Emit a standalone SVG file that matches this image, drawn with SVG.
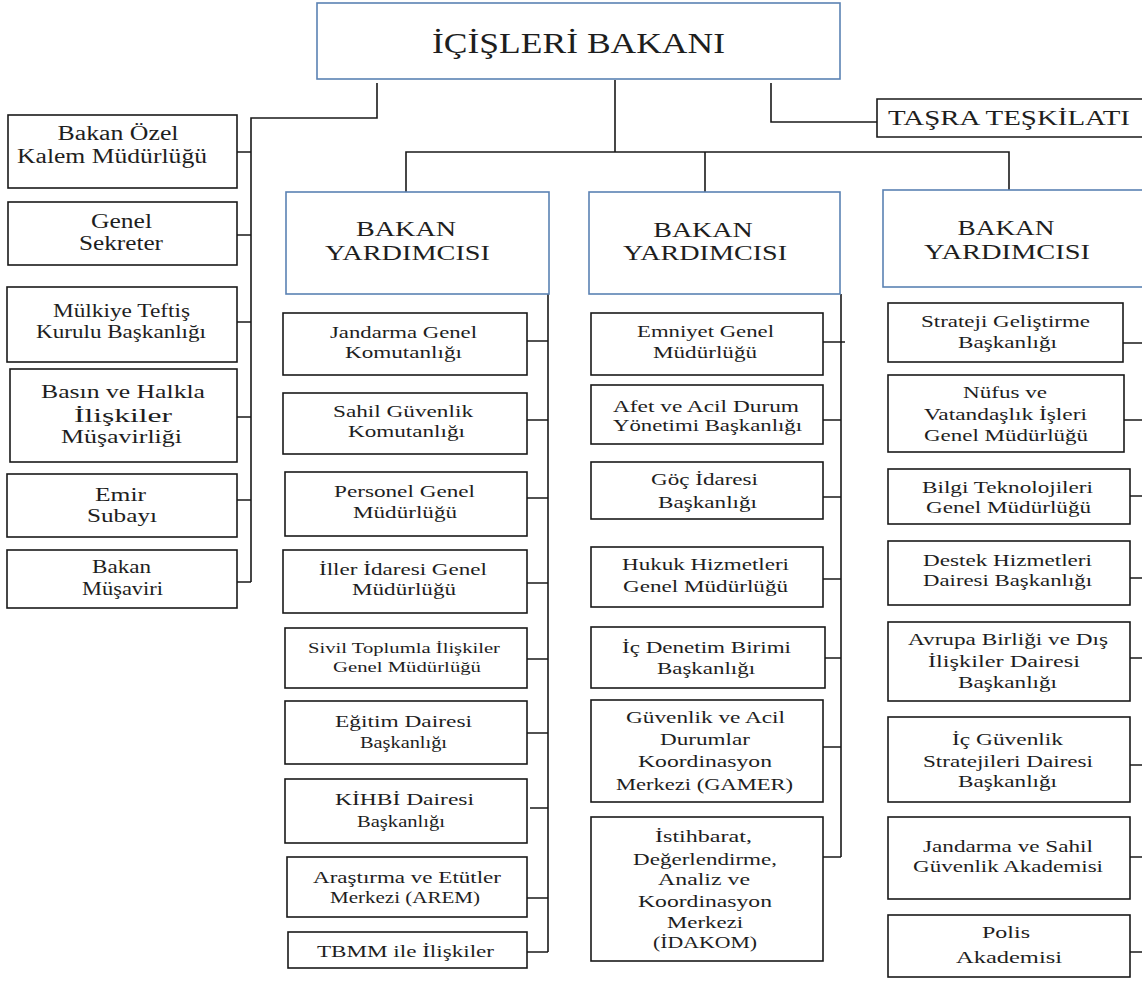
<svg xmlns="http://www.w3.org/2000/svg" width="1142" height="983" viewBox="0 0 1142 983" font-family="'Liberation Serif', 'DejaVu Serif', 'Times New Roman', serif">
<style>
.b{fill:#fff;stroke:#1a1a1a;stroke-width:1.6}
.bl{fill:#fff;stroke:#5b82b3;stroke-width:1.6}
.c{fill:none;stroke:#1a1a1a;stroke-width:1.6}
text{font-family:'Liberation Serif','DejaVu Serif','Times New Roman',serif;fill:#1e1e1e;text-anchor:middle}
.f30{font-size:30px}.f22{font-size:21px}.f21{font-size:21px}.f20{font-size:20px}.f19{font-size:19px}.f18{font-size:18px}.f17{font-size:17px}.f15{font-size:15px}
</style>
<rect width="1142" height="983" fill="#fff"/>
<g id="connectors">
<path class="c" d="M377,83 V118 H251 V582"/>
<path class="c" d="M237,152 H251 M237,235 H251 M237,322 H251 M237,417 H251 M237,500 H251 M237,582 H251"/>
<path class="c" d="M615,80 V152 M406,192 V152 H1009 V190 M705,152 V192"/>
<path class="c" d="M771,83 V122 H877"/>
<path class="c" d="M548,294 V952 M527,341 H548 M527,420 H548 M527,498 H548 M527,583 H548 M527,659 H548 M527,733 H548 M530,808 H548 M527,898 H548 M527,952 H548"/>
<path class="c" d="M841,294 V857 M823,342 H845 M823,420 H841 M823,497 H841 M823,579 H841 M825,658 H841 M823,747 H841 M823,857 H841"/>
<path class="c" d="M1123,343 H1142 M1124,420 H1142 M1130,496 H1142 M1130,578 H1142 M1130,658 H1142 M1130,765 H1142 M1130,857 H1142 M1130,952 H1142"/>
</g>
<g id="bakan">
<rect class="bl" x="317" y="3" width="523" height="76"/>
<text class="f30" x="578.5" y="53" textLength="293" lengthAdjust="spacingAndGlyphs">İÇİŞLERİ BAKANI</text>
</g>
<g id="tasra">
<path class="b" d="M1144,99 H877 V137 H1144"/>
<text class="f21" x="1009" y="125" textLength="242" lengthAdjust="spacingAndGlyphs">TAŞRA TEŞKİLATI</text>
</g>
<g id="by1">
<rect class="bl" x="286" y="192" width="263" height="102"/>
<text class="f22" x="406" y="236" textLength="100" lengthAdjust="spacingAndGlyphs">BAKAN</text>
<text class="f22" x="407.5" y="260" textLength="165" lengthAdjust="spacingAndGlyphs">YARDIMCISI</text>
</g>
<g id="by2">
<rect class="bl" x="589" y="192" width="251" height="102"/>
<text class="f22" x="703" y="237" textLength="99.5" lengthAdjust="spacingAndGlyphs">BAKAN</text>
<text class="f22" x="705" y="260" textLength="164" lengthAdjust="spacingAndGlyphs">YARDIMCISI</text>
</g>
<g id="by3">
<rect class="bl" x="883" y="190" width="262" height="97"/>
<text class="f22" x="1006" y="235" textLength="97" lengthAdjust="spacingAndGlyphs">BAKAN</text>
<text class="f22" x="1007" y="259" textLength="166" lengthAdjust="spacingAndGlyphs">YARDIMCISI</text>
</g>
<g id="ozel-kalem">
<rect class="b" x="8" y="115" width="229" height="73"/>
<text class="f20" x="118" y="140" textLength="121" lengthAdjust="spacingAndGlyphs">Bakan Özel</text>
<text class="f20" x="112" y="163" textLength="190" lengthAdjust="spacingAndGlyphs">Kalem Müdürlüğü</text>
</g>
<g id="genel-sekreter">
<rect class="b" x="8" y="202" width="229" height="63"/>
<text class="f20" x="121.5" y="228" textLength="61" lengthAdjust="spacingAndGlyphs">Genel</text>
<text class="f20" x="121" y="250" textLength="84" lengthAdjust="spacingAndGlyphs">Sekreter</text>
</g>
<g id="mulkiye">
<rect class="b" x="7" y="287" width="230" height="75"/>
<text class="f18" x="121.5" y="317" textLength="137" lengthAdjust="spacingAndGlyphs">Mülkiye Teftiş</text>
<text class="f18" x="121" y="338" textLength="170" lengthAdjust="spacingAndGlyphs">Kurulu Başkanlığı</text>
</g>
<g id="basin">
<rect class="b" x="10" y="369" width="227" height="93"/>
<text class="f19" x="123" y="398" textLength="164" lengthAdjust="spacingAndGlyphs">Basın ve Halkla</text>
<text class="f19" x="123" y="422" textLength="98" lengthAdjust="spacingAndGlyphs">İlişkiler</text>
<text class="f19" x="121.5" y="443" textLength="121" lengthAdjust="spacingAndGlyphs">Müşavirliği</text>
</g>
<g id="emir">
<rect class="b" x="7" y="474" width="230" height="63"/>
<text class="f19" x="120.5" y="501" textLength="51" lengthAdjust="spacingAndGlyphs">Emir</text>
<text class="f19" x="122" y="522" textLength="70" lengthAdjust="spacingAndGlyphs">Subayı</text>
</g>
<g id="musavir">
<rect class="b" x="7" y="550" width="230" height="58"/>
<text class="f19" x="121.5" y="573" textLength="59" lengthAdjust="spacingAndGlyphs">Bakan</text>
<text class="f19" x="122.5" y="595" textLength="81" lengthAdjust="spacingAndGlyphs">Müşaviri</text>
</g>
<g id="jandarma">
<rect class="b" x="283" y="313" width="244" height="62"/>
<text class="f17" x="403.5" y="338" textLength="147" lengthAdjust="spacingAndGlyphs">Jandarma Genel</text>
<text class="f17" x="403.5" y="358" textLength="117" lengthAdjust="spacingAndGlyphs">Komutanlığı</text>
</g>
<g id="sahil">
<rect class="b" x="283" y="393" width="244" height="61"/>
<text class="f17" x="403" y="417" textLength="140" lengthAdjust="spacingAndGlyphs">Sahil Güvenlik</text>
<text class="f17" x="406.5" y="437" textLength="117" lengthAdjust="spacingAndGlyphs">Komutanlığı</text>
</g>
<g id="personel">
<rect class="b" x="285" y="472" width="242" height="64"/>
<text class="f17" x="404.5" y="497" textLength="141" lengthAdjust="spacingAndGlyphs">Personel Genel</text>
<text class="f17" x="405" y="518" textLength="104" lengthAdjust="spacingAndGlyphs">Müdürlüğü</text>
</g>
<g id="iller">
<rect class="b" x="283" y="550" width="244" height="63"/>
<text class="f17" x="403" y="575" textLength="168" lengthAdjust="spacingAndGlyphs">İller İdaresi Genel</text>
<text class="f17" x="404" y="595" textLength="104" lengthAdjust="spacingAndGlyphs">Müdürlüğü</text>
</g>
<g id="sivil">
<rect class="b" x="285" y="628" width="242" height="60"/>
<text class="f15" x="404" y="653" textLength="192" lengthAdjust="spacingAndGlyphs">Sivil Toplumla İlişkiler</text>
<text class="f15" x="407" y="672" textLength="148" lengthAdjust="spacingAndGlyphs">Genel Müdürlüğü</text>
</g>
<g id="egitim">
<rect class="b" x="285" y="701" width="242" height="63"/>
<text class="f17" x="403.5" y="727" textLength="137" lengthAdjust="spacingAndGlyphs">Eğitim Dairesi</text>
<text class="f17" x="403.5" y="748" textLength="87" lengthAdjust="spacingAndGlyphs">Başkanlığı</text>
</g>
<g id="kihbi">
<rect class="b" x="285" y="779" width="242" height="64"/>
<text class="f17" x="404.5" y="805" textLength="139" lengthAdjust="spacingAndGlyphs">KİHBİ Dairesi</text>
<text class="f17" x="401" y="827" textLength="88" lengthAdjust="spacingAndGlyphs">Başkanlığı</text>
</g>
<g id="arem">
<rect class="b" x="287" y="857" width="240" height="60"/>
<text class="f17" x="407" y="883" textLength="188" lengthAdjust="spacingAndGlyphs">Araştırma ve Etütler</text>
<text class="f17" x="405" y="903" textLength="150" lengthAdjust="spacingAndGlyphs">Merkezi (AREM)</text>
</g>
<g id="tbmm">
<rect class="b" x="288" y="932" width="239" height="36"/>
<text class="f17" x="405.5" y="957" textLength="177" lengthAdjust="spacingAndGlyphs">TBMM ile İlişkiler</text>
</g>
<g id="emniyet">
<rect class="b" x="591" y="313" width="232" height="62"/>
<text class="f17" x="705.5" y="337" textLength="137" lengthAdjust="spacingAndGlyphs">Emniyet Genel</text>
<text class="f17" x="705" y="358" textLength="104" lengthAdjust="spacingAndGlyphs">Müdürlüğü</text>
</g>
<g id="afet">
<rect class="b" x="591" y="385" width="232" height="59"/>
<text class="f17" x="706" y="412" textLength="186" lengthAdjust="spacingAndGlyphs">Afet ve Acil Durum</text>
<text class="f17" x="707.5" y="431" textLength="189" lengthAdjust="spacingAndGlyphs">Yönetimi Başkanlığı</text>
</g>
<g id="goc">
<rect class="b" x="591" y="462" width="232" height="57"/>
<text class="f17" x="704.5" y="485" textLength="107" lengthAdjust="spacingAndGlyphs">Göç İdaresi</text>
<text class="f17" x="707.5" y="508" textLength="99" lengthAdjust="spacingAndGlyphs">Başkanlığı</text>
</g>
<g id="hukuk">
<rect class="b" x="591" y="547" width="232" height="60"/>
<text class="f17" x="705.5" y="570" textLength="167" lengthAdjust="spacingAndGlyphs">Hukuk Hizmetleri</text>
<text class="f17" x="705.5" y="592" textLength="165" lengthAdjust="spacingAndGlyphs">Genel Müdürlüğü</text>
</g>
<g id="ic-denetim">
<rect class="b" x="591" y="627" width="234" height="61"/>
<text class="f17" x="706.5" y="653" textLength="169" lengthAdjust="spacingAndGlyphs">İç Denetim Birimi</text>
<text class="f17" x="706" y="674" textLength="98" lengthAdjust="spacingAndGlyphs">Başkanlığı</text>
</g>
<g id="gamer">
<rect class="b" x="591" y="700" width="232" height="102"/>
<text class="f17" x="705.5" y="723" textLength="159" lengthAdjust="spacingAndGlyphs">Güvenlik ve Acil</text>
<text class="f17" x="705" y="745" textLength="90" lengthAdjust="spacingAndGlyphs">Durumlar</text>
<text class="f17" x="705" y="767" textLength="134" lengthAdjust="spacingAndGlyphs">Koordinasyon</text>
<text class="f17" x="704.5" y="790" textLength="177" lengthAdjust="spacingAndGlyphs">Merkezi (GAMER)</text>
</g>
<g id="idakom">
<rect class="b" x="591" y="817" width="232" height="144"/>
<text class="f17" x="703.5" y="842" textLength="97" lengthAdjust="spacingAndGlyphs">İstihbarat,</text>
<text class="f17" x="705" y="865" textLength="144" lengthAdjust="spacingAndGlyphs">Değerlendirme,</text>
<text class="f17" x="704" y="885" textLength="92" lengthAdjust="spacingAndGlyphs">Analiz ve</text>
<text class="f17" x="705" y="907" textLength="134" lengthAdjust="spacingAndGlyphs">Koordinasyon</text>
<text class="f17" x="705" y="928" textLength="76" lengthAdjust="spacingAndGlyphs">Merkezi</text>
<text class="f17" x="705" y="948" textLength="104" lengthAdjust="spacingAndGlyphs">(İDAKOM)</text>
</g>
<g id="strateji">
<rect class="b" x="888" y="303" width="235" height="59"/>
<text class="f17" x="1005.5" y="327" textLength="169" lengthAdjust="spacingAndGlyphs">Strateji Geliştirme</text>
<text class="f17" x="1007.5" y="348" textLength="99" lengthAdjust="spacingAndGlyphs">Başkanlığı</text>
</g>
<g id="nufus">
<rect class="b" x="888" y="375" width="236" height="77"/>
<text class="f17" x="1005" y="398" textLength="84" lengthAdjust="spacingAndGlyphs">Nüfus ve</text>
<text class="f17" x="1005.5" y="420" textLength="163" lengthAdjust="spacingAndGlyphs">Vatandaşlık İşleri</text>
<text class="f17" x="1006" y="441" textLength="164" lengthAdjust="spacingAndGlyphs">Genel Müdürlüğü</text>
</g>
<g id="bilgi">
<rect class="b" x="888" y="469" width="242" height="55"/>
<text class="f17" x="1007.5" y="493" textLength="171" lengthAdjust="spacingAndGlyphs">Bilgi Teknolojileri</text>
<text class="f17" x="1008.5" y="513" textLength="165" lengthAdjust="spacingAndGlyphs">Genel Müdürlüğü</text>
</g>
<g id="destek">
<rect class="b" x="888" y="541" width="242" height="64"/>
<text class="f17" x="1007.5" y="566" textLength="169" lengthAdjust="spacingAndGlyphs">Destek Hizmetleri</text>
<text class="f17" x="1007.5" y="586" textLength="169" lengthAdjust="spacingAndGlyphs">Dairesi Başkanlığı</text>
</g>
<g id="avrupa">
<rect class="b" x="888" y="622" width="242" height="79"/>
<text class="f17" x="1008" y="645" textLength="200" lengthAdjust="spacingAndGlyphs">Avrupa Birliği ve Dış</text>
<text class="f17" x="1004" y="667" textLength="152" lengthAdjust="spacingAndGlyphs">İlişkiler Dairesi</text>
<text class="f17" x="1007.5" y="688" textLength="99" lengthAdjust="spacingAndGlyphs">Başkanlığı</text>
</g>
<g id="ic-guvenlik">
<rect class="b" x="888" y="717" width="242" height="85"/>
<text class="f17" x="1007.5" y="745" textLength="111" lengthAdjust="spacingAndGlyphs">İç Güvenlik</text>
<text class="f17" x="1008" y="767" textLength="170" lengthAdjust="spacingAndGlyphs">Stratejileri Dairesi</text>
<text class="f17" x="1007.5" y="787" textLength="99" lengthAdjust="spacingAndGlyphs">Başkanlığı</text>
</g>
<g id="jsga">
<rect class="b" x="888" y="817" width="242" height="82"/>
<text class="f17" x="1008" y="852" textLength="170" lengthAdjust="spacingAndGlyphs">Jandarma ve Sahil</text>
<text class="f17" x="1008" y="872" textLength="190" lengthAdjust="spacingAndGlyphs">Güvenlik Akademisi</text>
</g>
<g id="polis">
<rect class="b" x="888" y="915" width="242" height="62"/>
<text class="f17" x="1006" y="938" textLength="48" lengthAdjust="spacingAndGlyphs">Polis</text>
<text class="f17" x="1009" y="963" textLength="106" lengthAdjust="spacingAndGlyphs">Akademisi</text>
</g>
</svg>
